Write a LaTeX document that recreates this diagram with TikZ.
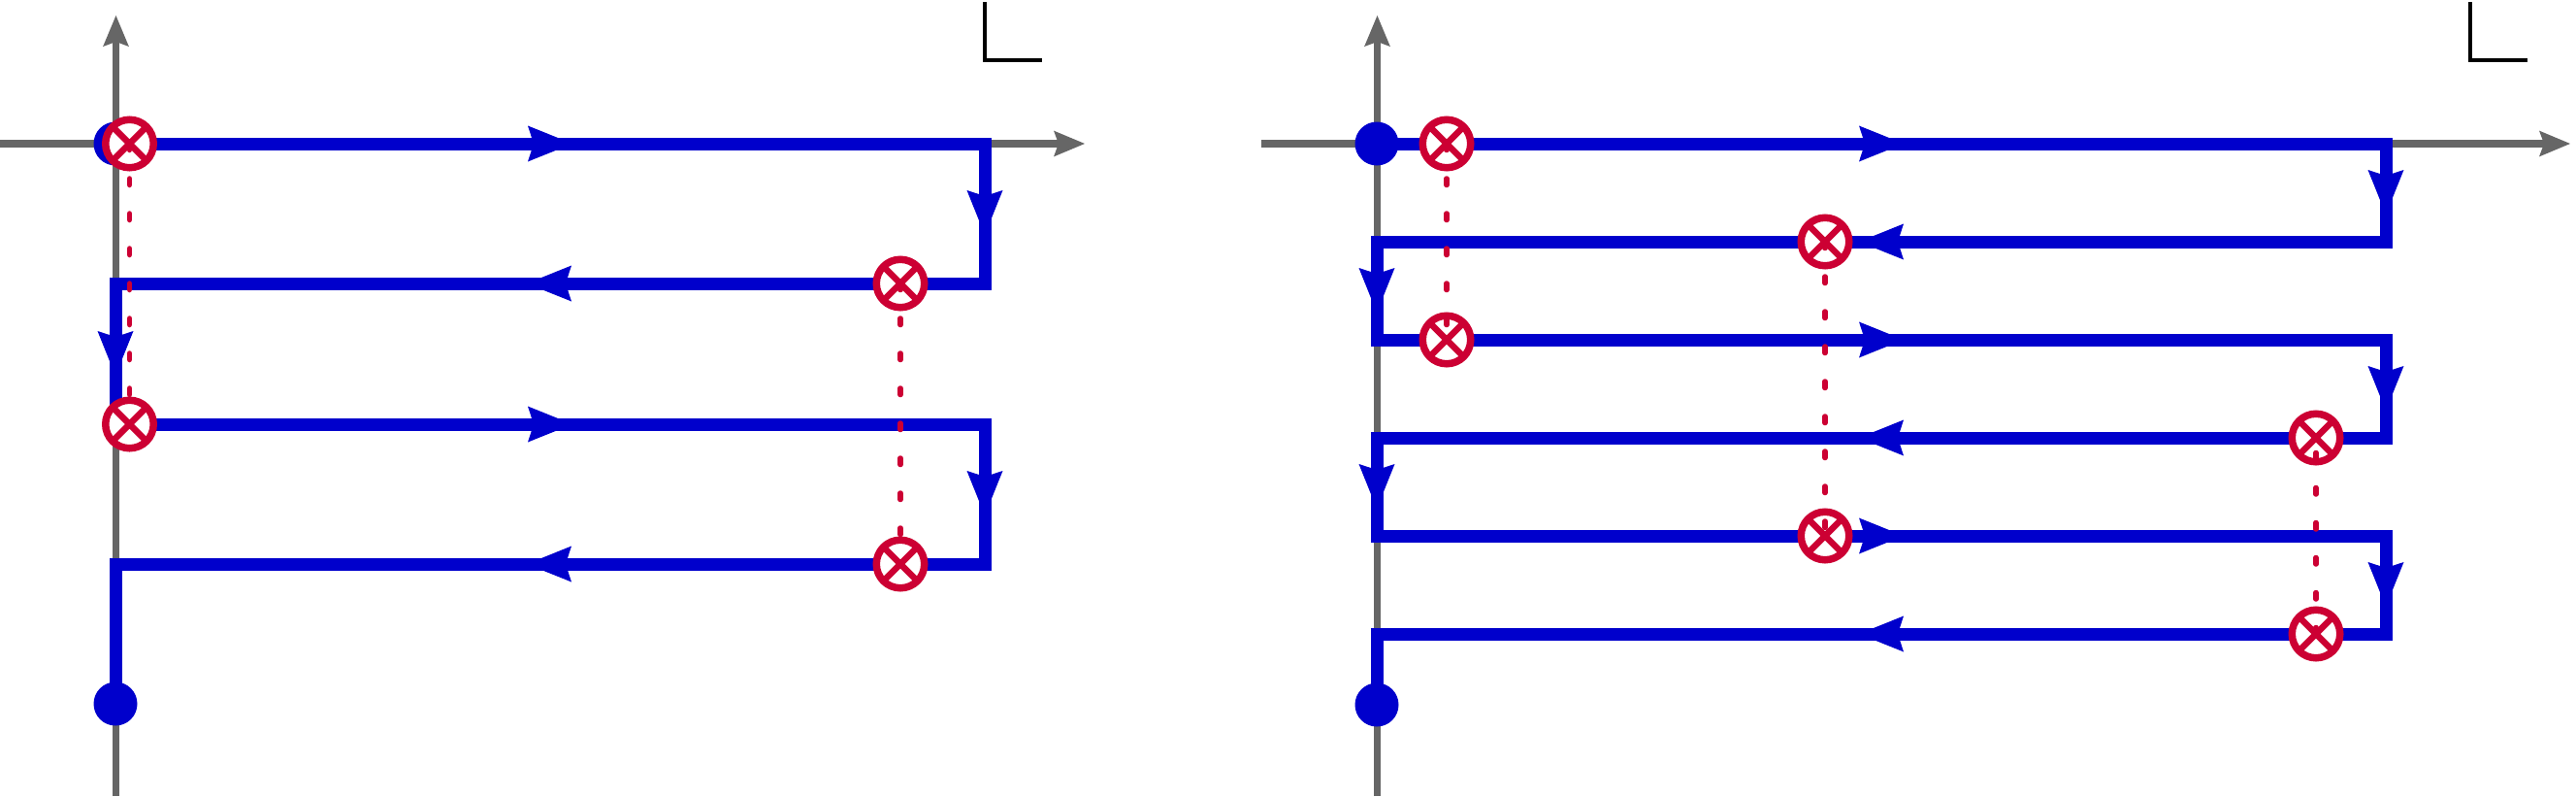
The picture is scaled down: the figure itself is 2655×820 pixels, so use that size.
\documentclass[tikz,border=0pt]{standalone}
\usetikzlibrary{decorations.markings}
\definecolor{axgrey}{HTML}{666666}
\definecolor{wire}{HTML}{0000CC}
\definecolor{crim}{HTML}{CC0033}
\newcommand{\wiretip}{\fill[wire] (0pt,0pt) -- (-46pt,18.5pt) -- (-40pt,0pt) -- (-46pt,-18.5pt) -- cycle;}
\tikzset{
  axisbar/.style={draw=axgrey,line width=7.5pt},
  axistip/.style={fill=axgrey,draw=none},
  wireline/.style={draw=wire,line width=13pt,line join=miter},
  tipsat/.style={postaction={decorate},decoration={markings,#1}},
  dotnode/.style={circle,fill=wire,inner sep=0pt,minimum size=45pt},
  crossnode/.style={circle,draw=crim,fill=white,line width=7.5pt,inner sep=0pt,minimum size=49.5pt,
    path picture={\draw[crim,line width=6.5pt]
      (path picture bounding box.north west)--(path picture bounding box.south east)
      (path picture bounding box.north east)--(path picture bounding box.south west);}},
  dashline/.style={draw=crim,line width=5.5pt,line cap=round,dash pattern=on 6.5pt off 29.5pt},
  corner/.style={draw=black,line width=4pt,line join=miter}
}
\newcommand{\axhead}[2]{\fill[axistip,shift={(#1)},rotate=#2] (0pt,0pt) -- (-32pt,13.4pt) -- (-27pt,0pt) -- (-32pt,-13.4pt) -- cycle;}
\begin{document}
\begin{tikzpicture}[x=1pt,y=-1pt]
\useasboundingbox (0,0) rectangle (2655,820);
% left panel
\coordinate (lw) at (0,148); \coordinate (le) at (1118,148); \coordinate (lee) at (1105,148);
\coordinate (ls) at (119.5,820); \coordinate (ln) at (119.5,16); \coordinate (lnn) at (119.5,29);
\coordinate (lc1) at (1015,2); \coordinate (lc2) at (1015,61.5); \coordinate (lc3) at (1074,61.5);
\draw[axisbar] (lw) -- (lee); \axhead{le}{0}
\draw[axisbar] (ls) -- (lnn); \axhead{ln}{90}
\draw[corner] (lc1) -- (lc2) -- (lc3);
\coordinate (a0) at (119,148); \coordinate (a1) at (1015,148);
\coordinate (a2) at (1015,292); \coordinate (a3) at (119,292);
\coordinate (a4) at (119,437); \coordinate (a5) at (1015,437);
\coordinate (a6) at (1015,581); \coordinate (a7) at (119,581);
\coordinate (a8) at (119,725);
\draw[wireline,tipsat={
  mark=at position 471pt with {\wiretip},
  mark=at position 990pt with {\wiretip},
  mark=at position 1512pt with {\wiretip},
  mark=at position 2031pt with {\wiretip},
  mark=at position 2552pt with {\wiretip},
  mark=at position 3071pt with {\wiretip},
  mark=at position 3593pt with {\wiretip}}]
  (a0) -- (a1) -- (a2) -- (a3) -- (a4) -- (a5) -- (a6) -- (a7) -- (a8);
\node[dotnode] (ldA) at (a0) {};
\node[dotnode] (ldB) at (a8) {};
\node[crossnode] (lx1) at (133.5,148) {};
\node[crossnode] (lx2) at (928,292) {};
\node[crossnode] (lx3) at (133.5,437) {};
\node[crossnode] (lx4) at (928,581) {};
\draw[dashline] (lx1.center) -- (lx3.center);
\draw[dashline] (lx2.center) -- (lx4.center);
% right panel
\coordinate (rw) at (1300,148); \coordinate (re) at (2649,148); \coordinate (ree) at (2636,148);
\coordinate (rs) at (1419.5,820); \coordinate (rn) at (1419.5,16); \coordinate (rnn) at (1419.5,29);
\coordinate (rc1) at (2546,2); \coordinate (rc2) at (2546,61.5); \coordinate (rc3) at (2605,61.5);
\draw[axisbar] (rw) -- (ree); \axhead{re}{0}
\draw[axisbar] (rs) -- (rnn); \axhead{rn}{90}
\draw[corner] (rc1) -- (rc2) -- (rc3);
\coordinate (b0) at (1419,148); \coordinate (b1) at (2459,148);
\coordinate (b2) at (2459,249); \coordinate (b3) at (1419,249);
\coordinate (b4) at (1419,350); \coordinate (b5) at (2459,350);
\coordinate (b6) at (2459,451); \coordinate (b7) at (1419,451);
\coordinate (b8) at (1419,552); \coordinate (b9) at (2459,552);
\coordinate (b10) at (2459,653); \coordinate (b11) at (1419,653);
\coordinate (b12) at (1419,726);
\draw[wireline,tipsat={
  mark=at position 543pt with {\wiretip},
  mark=at position 1113pt with {\wiretip},
  mark=at position 1684pt with {\wiretip},
  mark=at position 2254pt with {\wiretip},
  mark=at position 2825pt with {\wiretip},
  mark=at position 3395pt with {\wiretip},
  mark=at position 3966pt with {\wiretip},
  mark=at position 4536pt with {\wiretip},
  mark=at position 5107pt with {\wiretip},
  mark=at position 5677pt with {\wiretip},
  mark=at position 6248pt with {\wiretip}}]
  (b0) -- (b1) -- (b2) -- (b3) -- (b4) -- (b5) -- (b6) -- (b7) -- (b8) -- (b9) -- (b10) -- (b11) -- (b12);
\node[dotnode] (rdA) at (b0) {};
\node[dotnode] (rdB) at (b12) {};
\node[crossnode] (rx1) at (1491,148) {};
\node[crossnode] (rx2) at (1491,350) {};
\node[crossnode] (rx3) at (1881,249) {};
\node[crossnode] (rx4) at (1881,552) {};
\node[crossnode] (rx5) at (2387,451) {};
\node[crossnode] (rx6) at (2387,653) {};
\draw[dashline] (rx1.center) -- (rx2.center);
\draw[dashline] (rx3.center) -- (rx4.center);
\draw[dashline] (rx6.center) -- (rx5.center);
\end{tikzpicture}
\end{document}
